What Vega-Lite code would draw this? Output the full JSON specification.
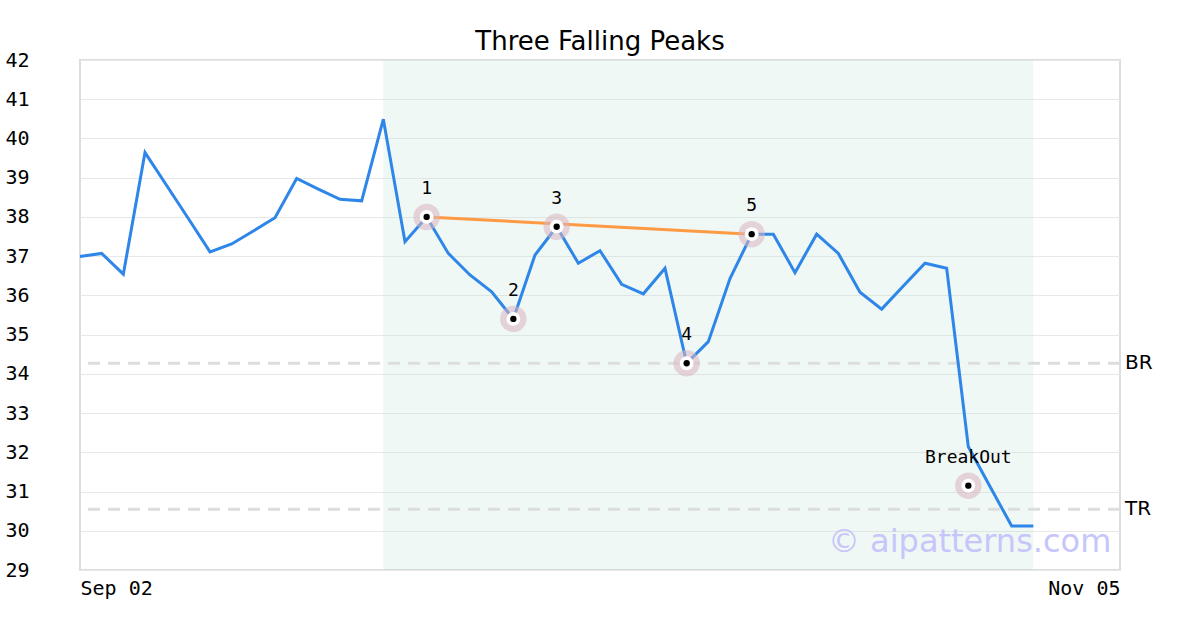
{
  "$schema": "https://vega.github.io/schema/vega-lite/v6.json",
  "width": 1040,
  "height": 510,
  "autosize": {"type": "none"},
  "padding": {"left": 80, "top": 60, "right": 80, "bottom": 60},
  "background": "white",
  "config": {
    "view": {"stroke": "#dddddd", "strokeWidth": 2},
    "font": "DejaVu Sans Mono",
    "axisY": {
      "grid": true, "gridColor": "#e8e8e8", "gridWidth": 1, "domain": false, "ticks": false, "tickSize": 0,
      "labelAlign": "left", "labelPadding": 75, "labelOverlap": false, "labelBound": false, "format": "d",
      "labelFont": "DejaVu Sans Mono", "labelFontSize": 20, "labelColor": "#000000", "title": null
    }
  },
  "title": {
    "text": "Three Falling Peaks",
    "font": "DejaVu Sans",
    "fontSize": 26,
    "fontWeight": "normal",
    "color": "#000000",
    "anchor": "middle",
    "offset": -5
  },
  "datasets": {
    "price": [
      {"i": 0, "v": 36.99}, {"i": 1, "v": 37.07}, {"i": 2, "v": 36.54}, {"i": 3, "v": 39.64},
      {"i": 4, "v": 38.8}, {"i": 5, "v": 37.96}, {"i": 6, "v": 37.11}, {"i": 7, "v": 37.31},
      {"i": 8, "v": 37.64}, {"i": 9, "v": 37.98}, {"i": 10, "v": 38.98}, {"i": 11, "v": 38.71},
      {"i": 12, "v": 38.45}, {"i": 13, "v": 38.41}, {"i": 14, "v": 40.49}, {"i": 15, "v": 37.37},
      {"i": 16, "v": 38.0}, {"i": 17, "v": 37.07}, {"i": 18, "v": 36.52}, {"i": 19, "v": 36.09},
      {"i": 20, "v": 35.4}, {"i": 21, "v": 37.03}, {"i": 22, "v": 37.75}, {"i": 23, "v": 36.82},
      {"i": 24, "v": 37.14}, {"i": 25, "v": 36.28}, {"i": 26, "v": 36.04}, {"i": 27, "v": 36.69},
      {"i": 28, "v": 34.27}, {"i": 29, "v": 34.82}, {"i": 30, "v": 36.43}, {"i": 31, "v": 37.56},
      {"i": 32, "v": 37.56}, {"i": 33, "v": 36.58}, {"i": 34, "v": 37.56}, {"i": 35, "v": 37.07},
      {"i": 36, "v": 36.08}, {"i": 37, "v": 35.65}, {"i": 38, "v": 36.24}, {"i": 39, "v": 36.82},
      {"i": 40, "v": 36.69}, {"i": 41, "v": 32.14}, {"i": 42, "v": 31.13}, {"i": 43, "v": 30.12},
      {"i": 44, "v": 30.12}
    ],
    "points": [
      {"i": 16, "v": 38.0, "label": "1"},
      {"i": 20, "v": 35.4, "label": "2"},
      {"i": 22, "v": 37.75, "label": "3"},
      {"i": 28, "v": 34.27, "label": "4"},
      {"i": 31, "v": 37.56, "label": "5"},
      {"i": 41, "v": 31.15, "label": "BreakOut"}
    ],
    "trend": [{"i": 16, "v": 38.0}, {"i": 31, "v": 37.56}],
    "levels": [{"v": 34.27, "name": "BR"}, {"v": 30.55, "name": "TR"}],
    "zone": [{"start": 14, "end": 44}],
    "mark": [{"i": 47.6, "v": 29.45, "text": "© aipatterns.com"}]
  },
  "layer": [
    {
      "data": {"name": "zone"},
      "mark": {"type": "rect", "fill": "#b9dfd0", "opacity": 0.22},
      "encoding": {
        "x": {"field": "start", "type": "quantitative", "scale": {"domain": [0, 48], "nice": false, "zero": false},
          "axis": {"values": [0, 48], "labelExpr": "datum.value == 0 ? 'Sep 02' : 'Nov 05'", "labelFlush": true,
            "grid": false, "domain": false, "ticks": false, "tickSize": 0, "labelPadding": 8,
            "labelFont": "DejaVu Sans Mono", "labelFontSize": 20, "labelColor": "#000000", "title": null}},
        "x2": {"field": "end"}
      }
    },
    {
      "data": {"name": "levels"},
      "mark": {"type": "rule", "color": "#dddddd", "strokeWidth": 3, "strokeDash": [12, 8]},
      "encoding": {
        "y": {"field": "v", "type": "quantitative", "scale": {"domain": [29, 42], "nice": false, "zero": false},
          "axis": {"values": [29, 30, 31, 32, 33, 34, 35, 36, 37, 38, 39, 40, 41, 42], "tickCount": 30}}
      }
    },
    {
      "data": {"name": "levels"},
      "mark": {"type": "text", "align": "left", "baseline": "middle", "dx": 5, "font": "DejaVu Sans", "fontSize": 20, "color": "#000000", "clip": false},
      "encoding": {
        "x": {"datum": 48, "type": "quantitative"},
        "y": {"field": "v", "type": "quantitative", "axis": {"values": [29, 30, 31, 32, 33, 34, 35, 36, 37, 38, 39, 40, 41, 42], "tickCount": 30}},
        "text": {"field": "name"}
      }
    },
    {
      "data": {"name": "mark"},
      "mark": {"type": "text", "align": "right", "baseline": "alphabetic", "font": "DejaVu Sans", "fontSize": 32, "color": "#c6c6fa"},
      "encoding": {
        "x": {"field": "i", "type": "quantitative"},
        "y": {"field": "v", "type": "quantitative", "axis": {"values": [29, 30, 31, 32, 33, 34, 35, 36, 37, 38, 39, 40, 41, 42], "tickCount": 30}},
        "text": {"field": "text"}
      }
    },
    {
      "data": {"name": "price"},
      "mark": {"type": "line", "color": "#2e86e8", "strokeWidth": 3, "strokeJoin": "miter"},
      "encoding": {
        "x": {"field": "i", "type": "quantitative"},
        "y": {"field": "v", "type": "quantitative", "axis": {"values": [29, 30, 31, 32, 33, 34, 35, 36, 37, 38, 39, 40, 41, 42], "tickCount": 30}}
      }
    },
    {
      "data": {"name": "trend"},
      "mark": {"type": "line", "color": "#fd9a44", "strokeWidth": 3},
      "encoding": {
        "x": {"field": "i", "type": "quantitative"},
        "y": {"field": "v", "type": "quantitative", "axis": {"values": [29, 30, 31, 32, 33, 34, 35, 36, 37, 38, 39, 40, 41, 42], "tickCount": 30}}
      }
    },
    {
      "data": {"name": "points"},
      "mark": {"type": "circle", "color": "#d8b4c0", "opacity": 0.55, "size": 700},
      "encoding": {
        "x": {"field": "i", "type": "quantitative"},
        "y": {"field": "v", "type": "quantitative", "axis": {"values": [29, 30, 31, 32, 33, 34, 35, 36, 37, 38, 39, 40, 41, 42], "tickCount": 30}}
      }
    },
    {
      "data": {"name": "points"},
      "mark": {"type": "circle", "color": "#ffffff", "opacity": 1, "size": 190},
      "encoding": {
        "x": {"field": "i", "type": "quantitative"},
        "y": {"field": "v", "type": "quantitative", "axis": {"values": [29, 30, 31, 32, 33, 34, 35, 36, 37, 38, 39, 40, 41, 42], "tickCount": 30}}
      }
    },
    {
      "data": {"name": "points"},
      "mark": {"type": "circle", "color": "#000000", "opacity": 1, "size": 40},
      "encoding": {
        "x": {"field": "i", "type": "quantitative"},
        "y": {"field": "v", "type": "quantitative", "axis": {"values": [29, 30, 31, 32, 33, 34, 35, 36, 37, 38, 39, 40, 41, 42], "tickCount": 30}}
      }
    },
    {
      "data": {"name": "points"},
      "mark": {"type": "text", "align": "center", "baseline": "alphabetic", "dy": -23, "font": "DejaVu Sans Mono", "fontSize": 18, "color": "#000000"},
      "encoding": {
        "x": {"field": "i", "type": "quantitative"},
        "y": {"field": "v", "type": "quantitative", "axis": {"values": [29, 30, 31, 32, 33, 34, 35, 36, 37, 38, 39, 40, 41, 42], "tickCount": 30}},
        "text": {"field": "label"}
      }
    }
  ]
}
